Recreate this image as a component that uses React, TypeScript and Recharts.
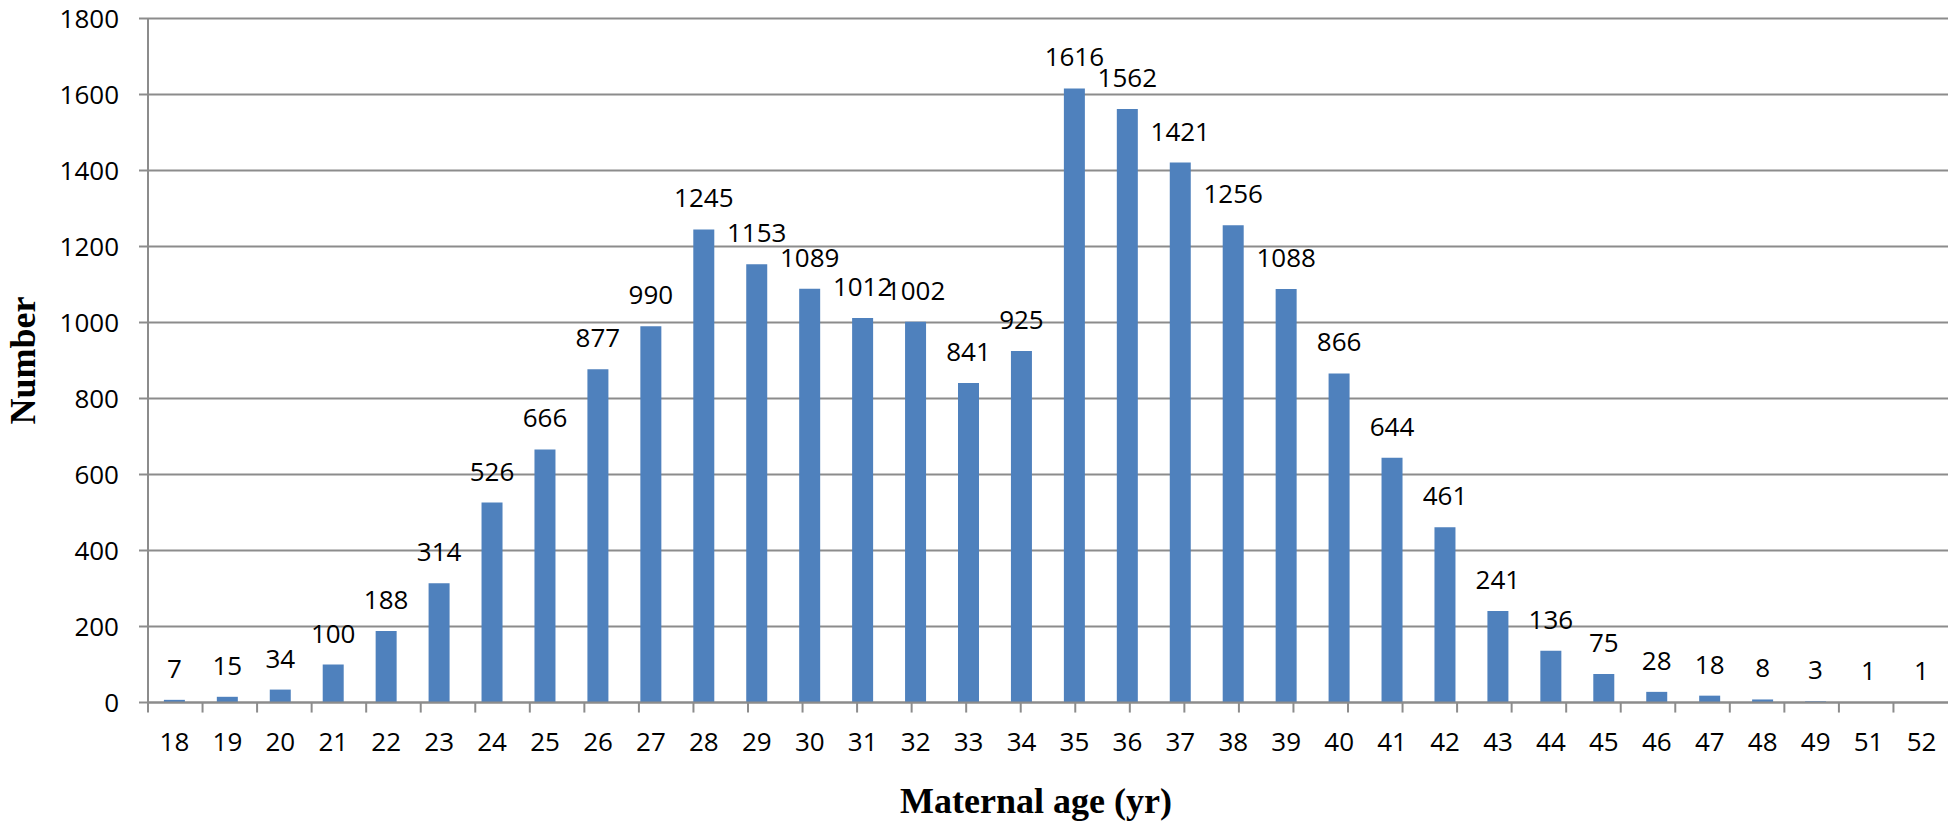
import React from 'react';
import { BarChart, Bar, XAxis, YAxis, CartesianGrid, LabelList } from 'recharts';

const ages = ['18', '19', '20', '21', '22', '23', '24', '25', '26', '27', '28', '29', '30', '31', '32', '33', '34',
  '35', '36', '37', '38', '39', '40', '41', '42', '43', '44', '45', '46', '47', '48', '49', '51', '52'];
const counts = [7, 15, 34, 100, 188, 314, 526, 666, 877, 990, 1245, 1153, 1089, 1012, 1002, 841, 925,
  1616, 1562, 1421, 1256, 1088, 866, 644, 461, 241, 136, 75, 28, 18, 8, 3, 1, 1];
const yTicks = [0, 200, 400, 600, 800, 1000, 1200, 1400, 1600, 1800];
// band edges, used to draw the category separators under the axis
const edgeTicks = ages.map((_, i) => i).concat(ages.length);

const GRAY = '#8C8C8C';
const NUM_FONT = '"Open Sans", sans-serif';
const TITLE_FONT = '"Liberation Serif", "Times New Roman", serif';

const data = ages.map((age, i) => ({ age, n: counts[i] }));

export default function App() {
  return (
    <div style={{ width: 1948, height: 824, background: '#fff' }}>
      <style>{'body{margin:0}'}</style>
      <BarChart
        width={1948}
        height={824}
        data={data}
        margin={{ top: 18.5, right: 0, left: 0, bottom: 121.4 }}
        barCategoryGap="30%"
      >
        <CartesianGrid xAxisId="cat" vertical={false} stroke={GRAY} strokeWidth={2} />
        <XAxis
          xAxisId="edges"
          type="number"
          domain={[0, ages.length]}
          ticks={edgeTicks}
          allowDataOverflow
          height={0.05}
          axisLine={false}
          tickLine={{ stroke: GRAY, strokeWidth: 2 }}
          tickSize={10}
          tick={() => <g />}
          label={{
            value: 'Maternal age (yr)',
            position: 'bottom',
            offset: 85,
            dx: -12,
            style: { fontFamily: TITLE_FONT, fontWeight: 'bold', fontSize: 36, fill: '#000' },
          }}
        />
        <XAxis
          xAxisId="cat"
          dataKey="age"
          height={0.05}
          interval={0}
          axisLine={{ stroke: GRAY, strokeWidth: 2 }}
          tickLine={false}
          tickSize={10}
          tickMargin={20}
          tick={{ fontFamily: NUM_FONT, fontSize: 26, fill: '#000' }}
        />
        <YAxis
          width={148}
          domain={[0, 1800]}
          ticks={yTicks}
          interval={0}
          axisLine={{ stroke: GRAY, strokeWidth: 2 }}
          tickLine={{ stroke: GRAY, strokeWidth: 2 }}
          tickSize={9}
          tickMargin={20}
          tick={{ fontFamily: NUM_FONT, fontSize: 26, fill: '#000' }}
          label={{
            value: 'Number',
            angle: -90,
            position: 'insideLeft',
            offset: 22,
            textAnchor: 'middle',
            style: { fontFamily: TITLE_FONT, fontWeight: 'bold', fontSize: 36, fill: '#000', textAnchor: 'middle' },
          }}
        />
        <Bar xAxisId="cat" dataKey="n" fill="#4F81BD" isAnimationActive={false}>
          <LabelList
            dataKey="n"
            position="top"
            offset={22}
            style={{ fontFamily: NUM_FONT, fontSize: 26, fill: '#000' }}
          />
        </Bar>
      </BarChart>
    </div>
  );
}
